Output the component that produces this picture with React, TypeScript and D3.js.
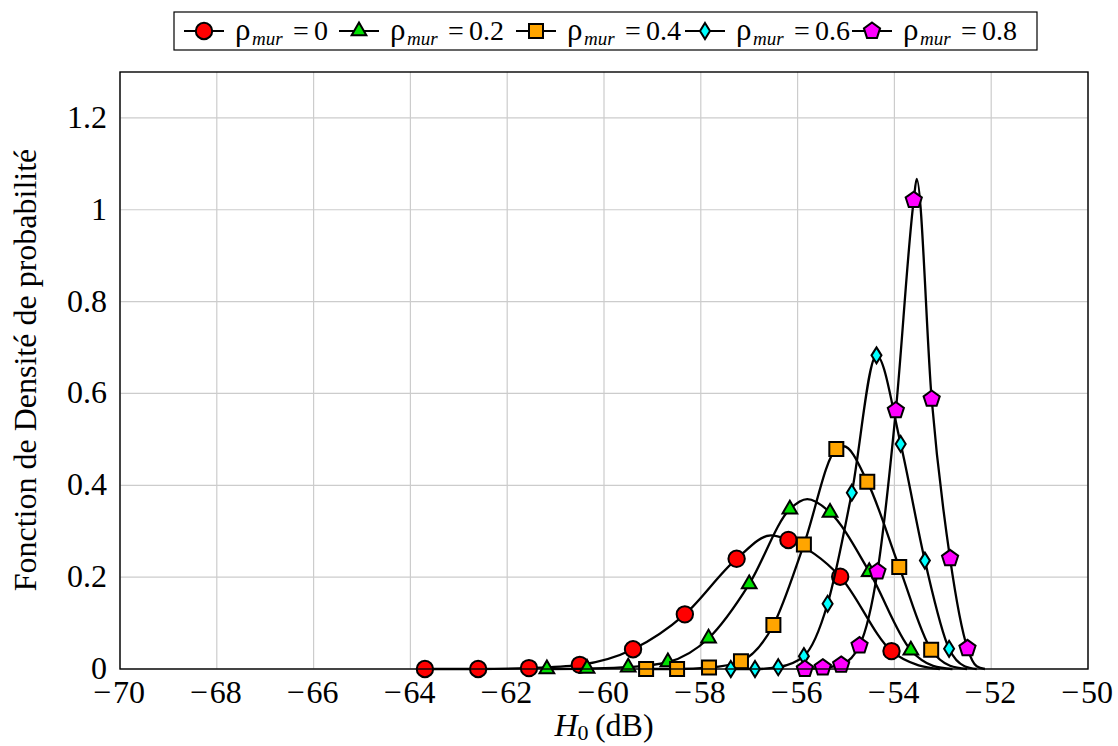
import React from "react";
import * as d3 from "d3";

// Marker samples of the density of H0 for each wall correlation coefficient
const H0_RHO0 = [-63.7, -62.6, -61.55, -60.5, -59.4, -58.33, -57.26, -56.19, -55.12, -54.06];
const PDF_RHO0 = [0, 0, 0.002, 0.009, 0.043, 0.119, 0.24, 0.281, 0.201, 0.039];
const H0_RHO02 = [-61.18, -60.35, -59.5, -58.68, -57.84, -57.0, -56.16, -55.33, -54.52, -53.66];
const PDF_RHO02 = [0, 0.001, 0.004, 0.015, 0.067, 0.185, 0.348, 0.341, 0.212, 0.041];
const H0_RHO04 = [-59.13, -58.49, -57.83, -57.17, -56.5, -55.87, -55.2, -54.56, -53.9, -53.24];
const PDF_RHO04 = [0, 0, 0.003, 0.017, 0.096, 0.271, 0.479, 0.408, 0.222, 0.042];
const H0_RHO06 = [-57.38, -56.88, -56.4, -55.87, -55.38, -54.88, -54.37, -53.87, -53.37, -52.87];
const PDF_RHO06 = [0, 0, 0.004, 0.028, 0.142, 0.384, 0.683, 0.49, 0.236, 0.044];
const H0_RHO08 = [-55.85, -55.48, -55.1, -54.72, -54.35, -53.97, -53.6, -53.23, -52.85, -52.49];
const PDF_RHO08 = [0, 0.003, 0.009, 0.051, 0.212, 0.563, 1.021, 0.588, 0.241, 0.045];

// Additional points of each density curve: crest and decay to zero
const CURVE_EXTRA_H0 = [
  [-56.55, -53.5, -53.06],
  [-55.8, -53.2, -52.8],
  [-55.05, -52.85, -52.5],
  [-52.55, -52.3],
  [-53.54, -52.3, -52.13],
];
const CURVE_EXTRA_PDF = [
  [0.291, 0.008, 0],
  [0.37, 0.007, 0],
  [0.485, 0.007, 0],
  [0.006, 0],
  [1.067, 0.006, 0],
];

const RHO_LABELS = ["0", "0.2", "0.4", "0.6", "0.8"];
const COLORS = ["#ff0000", "#00e000", "#ffa500", "#00ffff", "#ff00ff"];
const SHAPES = ["circle", "triangle", "square", "diamond", "pentagon"];

const X_TICKS = [-70, -68, -66, -64, -62, -60, -58, -56, -54, -52, -50];
const Y_TICKS = [0, 0.2, 0.4, 0.6, 0.8, 1, 1.2];

const H0_SERIES = [H0_RHO0, H0_RHO02, H0_RHO04, H0_RHO06, H0_RHO08];
const PDF_SERIES = [PDF_RHO0, PDF_RHO02, PDF_RHO04, PDF_RHO06, PDF_RHO08];

const W = 1118;
const H = 746;
const M = { left: 120, right: 1088, top: 72, bottom: 669 };
const FONT = "'Liberation Serif', 'Times New Roman', serif";
const FS = 32;

const x = d3.scaleLinear().domain([-70, -50]).range([M.left, M.right]);
const y = d3.scaleLinear().domain([0, 1.3]).range([M.bottom, M.top]);

function markerPath(shape: string): string {
  if (shape === "triangle") {
    const r = 8.5;
    return `M0,${-r}L${0.866 * r},${0.5 * r}L${-0.866 * r},${0.5 * r}Z`;
  }
  if (shape === "square") {
    const s = 7;
    return `M${-s},${-s}H${s}V${s}H${-s}Z`;
  }
  if (shape === "diamond") {
    return `M0,-8L5,0L0,8L-5,0Z`;
  }
  if (shape === "pentagon") {
    const r = 8.5;
    const pts = d3.range(5).map((i) => {
      const a = -Math.PI / 2 + (i * 2 * Math.PI) / 5;
      return [r * Math.cos(a), r * Math.sin(a)];
    });
    return "M" + pts.map((p) => p.join(",")).join("L") + "Z";
  }
  return "";
}

function Marker({ shape, color, cx, cy }: { shape: string; color: string; cx: number; cy: number }) {
  if (shape === "circle") {
    return <circle cx={cx} cy={cy} r={8.2} fill={color} stroke="#000" strokeWidth={2} />;
  }
  return (
    <path
      d={markerPath(shape)}
      transform={`translate(${cx},${cy})`}
      fill={color}
      stroke="#000"
      strokeWidth={2}
      strokeLinejoin="miter"
    />
  );
}

const line = d3
  .line<[number, number]>()
  .x((d) => x(d[0]))
  .y((d) => y(d[1]))
  .curve(d3.curveMonotoneX);

function TickLabelX({ v }: { v: number }) {
  const neg = v < 0;
  return (
    <text x={x(v) - (neg ? 1 : 0)} y={703} textAnchor="middle" fontFamily={FONT} fontSize={FS}>
      {neg ? <tspan>{"\u2212"}</tspan> : null}
      <tspan dx={neg ? 2 : 0}>{String(Math.abs(v))}</tspan>
    </text>
  );
}

function LegendEntry({ mx, i }: { mx: number; i: number }) {
  const cy = 31;
  return (
    <g>
      <line x1={mx - 20} x2={mx + 20} y1={cy} y2={cy} stroke="#000" strokeWidth={2.2} />
      <Marker shape={SHAPES[i]} color={COLORS[i]} cx={mx} cy={cy} />
      <text x={mx + 31} y={cy + 9} fontFamily={FONT} fontSize={31}>ρ</text>
      <text x={mx + 48} y={cy + 14} fontFamily={FONT} fontSize={19} fontStyle="italic">mur</text>
      <text x={mx + 97} y={cy + 9} textAnchor="middle" fontFamily={FONT} fontSize={28}>=</text>
      <text x={mx + 110} y={cy + 9} fontFamily={FONT} fontSize={28}>{RHO_LABELS[i]}</text>
    </g>
  );
}

export default function App() {
  const series = H0_SERIES.map((xs, i) => {
    const marks: [number, number][] = xs.map((v, j) => [v, PDF_SERIES[i][j]]);
    const extra: [number, number][] = CURVE_EXTRA_H0[i].map((v, j) => [v, CURVE_EXTRA_PDF[i][j]]);
    const curve = [...marks, ...extra].sort((a, b) => a[0] - b[0]);
    return { marks, curve, color: COLORS[i], shape: SHAPES[i] };
  });

  const legendX = [204, 359, 536, 705, 872];

  return (
    <svg
      width={W}
      height={H}
      style={{ position: "absolute", left: 0, top: 0, background: "#fff" }}
    >
      <rect x={0} y={0} width={W} height={H} fill="#fff" />
      {/* grid */}
      {X_TICKS.map((t) => (
        <line key={"gx" + t} x1={x(t)} x2={x(t)} y1={M.top} y2={M.bottom} stroke="#cccccc" strokeWidth={1.2} />
      ))}
      {Y_TICKS.map((t) => (
        <line key={"gy" + t} x1={M.left} x2={M.right} y1={y(t)} y2={y(t)} stroke="#cccccc" strokeWidth={1.2} />
      ))}
      {/* curves and markers */}
      {series.map((s, i) => (
        <g key={"s" + i}>
          <path d={line(s.curve) || ""} fill="none" stroke="#000" strokeWidth={2.3} />
          {s.marks.map((p, j) => (
            <Marker key={j} shape={s.shape} color={s.color} cx={x(p[0])} cy={y(p[1])} />
          ))}
        </g>
      ))}
      {/* frame */}
      <rect
        x={M.left}
        y={M.top}
        width={M.right - M.left}
        height={M.bottom - M.top}
        fill="none"
        stroke="#000"
        strokeWidth={1.4}
      />
      {/* tick labels */}
      {X_TICKS.map((t) => (
        <TickLabelX key={"tx" + t} v={t} />
      ))}
      {Y_TICKS.map((t) => (
        <text key={"ty" + t} x={107} y={y(t) + 10} textAnchor="end" fontFamily={FONT} fontSize={FS}>
          {String(t)}
        </text>
      ))}
      {/* axis titles */}
      <text x={604} y={736} textAnchor="middle" fontFamily={FONT} fontSize={FS}>
        <tspan fontStyle="italic">H</tspan>
        <tspan dy={4} fontSize={22}>0</tspan>
        <tspan dy={-4}>{"\u2009(dB)"}</tspan>
      </text>
      <text
        transform="translate(36,370) rotate(-90)"
        textAnchor="middle"
        fontFamily={FONT}
        fontSize={FS}
      >
        Fonction de Densité de probabilité
      </text>
      {/* legend */}
      <rect x={174} y={12} width={863} height={38} fill="#fff" stroke="#000" strokeWidth={1.2} />
      {legendX.map((lx, i) => (
        <LegendEntry key={"lg" + i} mx={lx} i={i} />
      ))}
    </svg>
  );
}
